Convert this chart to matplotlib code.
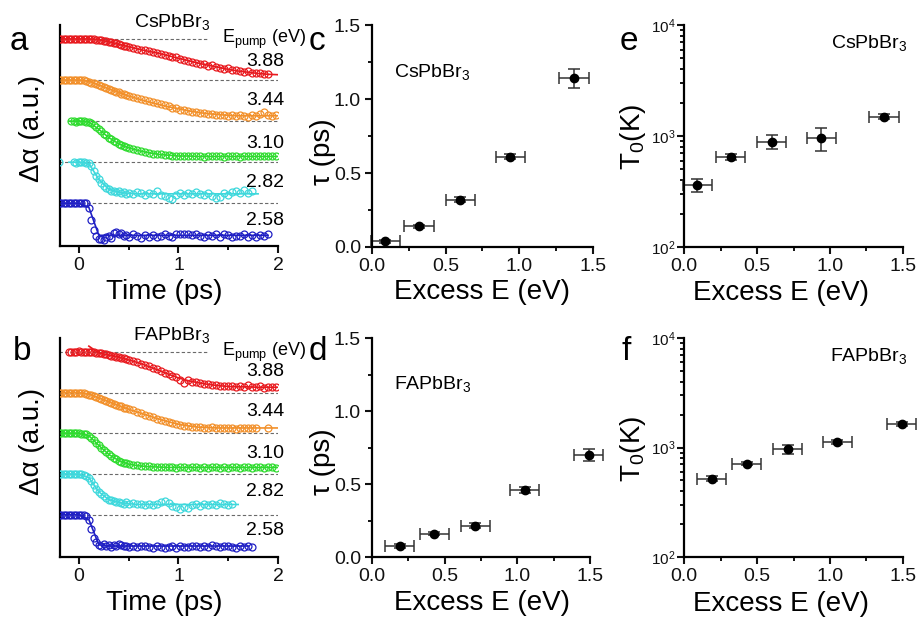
import numpy as np
import matplotlib
matplotlib.use('Agg')
import matplotlib.pyplot as plt
from matplotlib.ticker import MultipleLocator, LogLocator, NullFormatter, FormatStrFormatter, NullLocator

plt.rcParams['font.family'] = ['Liberation Sans', 'DejaVu Sans']
plt.rcParams['mathtext.fontset'] = 'custom'
plt.rcParams['mathtext.rm'] = 'Liberation Sans'
plt.rcParams['mathtext.it'] = 'Liberation Sans:italic'
plt.rcParams['mathtext.default'] = 'regular'

# ---------------- data ----------------
# common sampling times (ps) of the transient traces
TIME = [-0.200, -0.175, -0.150, -0.125, -0.100, -0.075, -0.050, -0.025, 0.000, 0.025,
        0.050, 0.075, 0.100, 0.125, 0.150, 0.175, 0.200, 0.225, 0.250, 0.275,
        0.300, 0.325, 0.350, 0.375, 0.400, 0.425, 0.450, 0.475, 0.500,
        0.54, 0.58, 0.62, 0.66, 0.70, 0.74, 0.78, 0.82, 0.86, 0.90, 0.94, 0.98,
        1.02, 1.06, 1.10, 1.14, 1.18, 1.22, 1.26, 1.30, 1.34, 1.38, 1.42, 1.46,
        1.50, 1.54, 1.58, 1.62, 1.66, 1.70, 1.74, 1.78, 1.82, 1.86, 1.90, 1.94, 1.98]
FIT_TIME = [-0.2, -0.1, 0.0, 0.1, 0.2, 0.3, 0.4, 0.5, 0.6, 0.7, 0.8, 0.9, 1.0,
            1.1, 1.2, 1.3, 1.4, 1.5, 1.6, 1.7, 1.8, 1.9, 2.0]

E_PUMP = ['3.88', '3.44', '3.10', '2.82', '2.58']

# CsPbBr3 traces: decay in % of trace spacing
CS_388 = [0, 0, 1, 0, 0, 1, 0, 0, 1, 0, 0, 1, 0, 1, 1, 2,
          2, 3, 4, 5, 7, 8, 10, 11, 12, 14, 16, 17, 19,
          22, 24, 26, 28, 30, 32, 34, 36, 38, 41, 43, 45, 48, 50, 54, 55, 58, 60, 62, 65,
          64, 69, 70, 72, 71, 76, 75, 78, 80, 77, 82, 84, 83, 86, 85]
CS_344 = [0, 0, 1, 0, 0, 0, 1, 0, 0, 1,
          1, 2, 4, 6, 8, 10, 12, 15, 17, 19, 21, 24, 26, 28, 30, 33, 35, 37, 38,
          41, 44, 47, 49, 52, 54, 57, 59, 61, 64, 67, 69, 72, 73, 75, 78, 78, 80, 81, 83,
          82, 84, 86, 85, 87, 86, 88, 86, 87, 89, 86, 88, 82, 79, 84, 87, 86]
CS_310 = [0, 0, 1, 0, 0, 0, 1, 2,
          5, 10, 15, 20, 25, 31, 35, 40, 44, 48, 52, 55, 58, 61, 63, 65,
          68, 71, 73, 75, 77, 79, 80, 81, 82, 83, 84, 85,
          85, 86, 84, 86, 85, 86, 87, 85, 86, 86, 85, 87, 86, 85, 86, 87, 85, 86, 84, 86,
          85, 86, 85, 86, 85]
CS_282 = [0, None, None, None, None, None,
          0, 1, 0, -1, 0, 1, 3,
          10, 22, 33, 42, 50, 57, 62, 66, 69, 71, 73, 70, 75, 72, 77, 74,
          78, 72, 76, 80, 74, 77, 71, 79, 82, 86, 89, 81, 76, 79, 74, 78, 72, 77, 80, 75,
          82, 88, 84, 76, 79, 73, 70, 76, 68, 74, 71]
CS_258 = [0, 0, 0, 0, 0, 0, 0, 0, 0, 0, 0, 0,
          12, 40, 65, 80, 88, 86, 90, 82, 79, 84, 72, 70, 76, 73, 80, 77, 82,
          76, 79, 84, 78, 81, 77, 83, 80, 76, 79, 82, 75, 74, 76, 75, 77, 74, 80, 82, 77,
          79, 76, 81, 74, 78, 83, 79, 80, 76, 82, 78, 81, 77, 79, 76]
CS_START = [0, 0, 5, 0, 0]
CS_FIT_388 = [0, 0, 0, 0, 2, 7, 13, 19, 25, 30, 35, 41, 47, 53, 59, 64, 69, 74, 78, 81, 84, 86, 87]
CS_FIT_344 = [0, 0, 0, 3, 12, 21, 30, 39, 46, 53, 59, 65, 70, 75, 79, 82, 84, 86, 87, 87, 87, 87, 87]
CS_FIT_310 = [0, 0, 2, 20, 40, 55, 65, 72, 77, 81, 83, 85, 85, 86, 86, 86, 86, 86, 86, 86, 86, 86]
CS_FIT_282 = [0, 0, 3, 42, 66, 73, 76, 77, 77, 77, 77, 77, 77, 77, 77, 77, 77, 77, 77, 77]
CS_FIT_258 = [0, 0, 0, 10, 78, 78, 78, 78, 78, 78, 78, 78, 78, 78, 78, 78, 78, 78, 78, 78, 78, 78]
CS_FIT_START = [0, 0, 1, 1, 0]

# FAPbBr3 traces
FA_388 = [0, 1, 0, 0, -1, 0, 1, 0, 0,
          1, 1, 2, 3, 4, 6, 6, 8, 9, 10, 12, 13, 15, 16, 18, 20,
          22, 25, 29, 33, 36, 40, 43, 47, 51, 55, 59, 62, 68, 77, 70, 73, 75, 77, 79, 80,
          82, 81, 83, 84, 85, 84, 86, 85, 87, 82, 86, 87, 85, 88, 86, 87, 86]
FA_344 = [0, 0, 0, 1, 0, 0, 0, 1, 0, 1,
          2, 3, 5, 7, 9, 11, 13, 15, 18, 20, 22, 25, 27, 30, 32, 34, 37, 39, 41,
          44, 47, 51, 54, 57, 61, 64, 67, 70, 73, 76, 78, 80, 81, 83, 84, 85, 84, 86, 88,
          85, 87, 86, 88, 86, 87, 89, 86, 88, 86, 88, 86, None, None, 87]
FA_310 = [0, 0, 0, 0, 0, 0, 0, 0, 0, 1, 1,
          3, 6, 11, 17, 23, 30, 36, 42, 47, 52, 56, 60, 64, 67, 70, 72, 74, 76,
          77, 79, 80, 81, 80, 82, 83, 82, 84, 83, 84, 85, 83, 84, 85, 84, 83, 85, 84, 85,
          84, 83, 85, 84, 85, 84, 83, 85, 84, 83, 85, 82, 84, 85, 83, 84, 85]
FA_282 = [0, 0, 0, 0, 0, 0, 0, 0, 0, 1, 2,
          4, 9, 18, 28, 36, 44, 50, 55, 60, 63, 65, 67, 70, 68, 71, 73, 70, 74,
          72, 75, 73, 77, 74, 76, 73, 68, 66, 72, 78, 82, 86, 80, 84, 76, 74, 78, 75, 77,
          73, 76, 72, 75, 77, 74]
FA_258 = [0, 0, 0, 0, 0, 0, 0, 0, 0, 0, 1, 3,
          12, 35, 58, 68, 74, 76, 72, 78, 75, 79, 74, 77, 71, 75, 78, 76, 79,
          77, 80, 78, 76, 79, 81, 77, 80, 83, 79, 78, 81, 77, 80, 79, 76, 78, 80, 77, 79,
          74, 77, 80, 78, 76, 79, 81, 78, 80, 77, 79]
FA_START = [4, 0, 0, 0, 0]
FA_FIT_388 = [-14, 3, 8, 13, 20, 27, 36, 45, 55, 64, 71, 76, 80, 83, 85, 86, 86, 87, 87, 87]
FA_FIT_344 = [0, 0, 0, 4, 13, 22, 32, 41, 49, 57, 65, 72, 78, 82, 85, 86, 87, 87, 87, 87, 87, 87, 87]
FA_FIT_310 = [0, 0, 0, 6, 30, 52, 67, 76, 80, 82, 83, 84, 84, 84, 84, 84, 84, 84, 84, 84, 84, 84, 84]
FA_FIT_282 = [0, 0, 1, 9, 44, 63, 70, 73, 75, 75, 75, 75, 75, 75, 75, 75, 75, 75, 75]
FA_FIT_258 = [0, 0, 0, 12, 74, 77, 77, 77, 77, 77, 77, 77, 77, 77, 77, 77, 77, 77, 77, 77]
FA_FIT_START = [3, 0, 0, 0, 0]

# excess energy vs cooling time / temperature
CS_EXCESS = [0.09, 0.32, 0.60, 0.94, 1.37]
CS_TAU = [0.04, 0.14, 0.32, 0.61, 1.14]
CS_TAU_ERR = [0.01, 0.012, 0.015, 0.018, 0.065]
CS_T0 = [360, 650, 885, 968, 1490]
CS_T0_LOW = [314, 614, 771, 735, 1409]
CS_T0_HIGH = [414, 686, 1018, 1186, 1574]

FA_EXCESS = [0.19, 0.43, 0.71, 1.05, 1.49]
FA_TAU = [0.075, 0.16, 0.215, 0.46, 0.70]
FA_TAU_ERR = [0.012, 0.012, 0.015, 0.02, 0.04]
FA_T0 = [519, 711, 968, 1122, 1640]
FA_T0_LOW = [495, 690, 880, 1080, 1580]
FA_T0_HIGH = [545, 735, 1059, 1165, 1700]

EXCESS_ERR = [0.1, 0.1, 0.1, 0.1, 0.1]

COLORS = ['#E8191E', '#F2902A', '#2EDB2E', '#3ED8DC', '#1F1FC4']

# ---------------- figure ----------------
W, H = 920, 622
fig = plt.figure(figsize=(W / 100, H / 100), dpi=100)


def add_ax(l, t, r, b):
    return fig.add_axes([l / W, 1 - b / H, (r - l) / W, (b - t) / H])


def ftext(x, y, s, **kw):
    fig.text(x / W, 1 - y / H, s, **kw)


def style(ax):
    for sp in ['top', 'right']:
        ax.spines[sp].set_visible(False)
    for sp in ['left', 'bottom']:
        ax.spines[sp].set_linewidth(1.6)
    ax.tick_params(which='major', direction='out', length=5, width=1.5,
                   labelsize=14, pad=3, colors='#111111')
    ax.tick_params(which='minor', direction='out', length=3, width=1.3)


def unclip(container):
    for art in container.get_children():
        art.set_clip_on(False)


def trace_panel(ax, traces, starts, fits, fit_starts, dash_start, dash_end, label_y):
    style(ax)
    for i, (vals, s, fit, fs) in enumerate(zip(traces, starts, fits, fit_starts)):
        off = 4 - i
        t = np.array(TIME[s:s + len(vals)])
        v = np.array(vals, dtype=float)
        ax.hlines(off, dash_start[i], dash_end[i], colors='#6a6a6a',
                  linestyles=(0, (3, 2)), lw=0.8, zorder=1)
        ft = np.array(FIT_TIME[fs:fs + len(fit)])
        ax.plot(ft, off - np.array(fit, dtype=float) / 100, '-', color=COLORS[i], lw=1.2, zorder=2)
        ax.plot(t, off - v / 100, 'o', mfc='none', mec=COLORS[i], ms=5, mew=0.9, zorder=3)
        ax.text(2.06, label_y[i], E_PUMP[i], ha='right', va='center', fontsize=14,
                clip_on=False)
    ax.set_xlim(-0.19, 2.0)
    ax.set_ylim(-1.04, 4.34)
    ax.yaxis.set_major_locator(NullLocator())
    ax.xaxis.set_major_locator(MultipleLocator(1))
    ax.xaxis.set_minor_locator(MultipleLocator(0.5))
    ax.text(1.44, 3.99, r'E$_{\mathrm{pump}}$ (eV)', ha='left', va='center', fontsize=13,
            clip_on=False)


def tau_panel(ax, x, y, yerr, name):
    style(ax)
    cont = ax.errorbar(x, y, xerr=EXCESS_ERR, yerr=yerr, fmt='o', color='black', ms=6,
                       ecolor='#333333', elinewidth=1.1, capsize=4, capthick=1.1)
    unclip(cont)
    ax.set_xlim(0, 1.5)
    ax.set_ylim(0, 1.5)
    ax.xaxis.set_major_locator(MultipleLocator(0.5))
    ax.xaxis.set_minor_locator(MultipleLocator(0.25))
    ax.yaxis.set_major_locator(MultipleLocator(0.5))
    ax.yaxis.set_minor_locator(MultipleLocator(0.25))
    ax.xaxis.set_major_formatter(FormatStrFormatter('%.1f'))
    ax.yaxis.set_major_formatter(FormatStrFormatter('%.1f'))
    ax.text(0.10, 0.79, name, transform=ax.transAxes, fontsize=14, ha='left', va='center')


def temp_panel(ax, x, y, low, high, name):
    style(ax)
    y = np.array(y, dtype=float)
    yerr = [y - np.array(low), np.array(high) - y]
    cont = ax.errorbar(x, y, xerr=EXCESS_ERR, yerr=yerr, fmt='o', color='black', ms=6,
                       ecolor='#333333', elinewidth=1.1, capsize=4, capthick=1.1)
    unclip(cont)
    ax.set_yscale('log')
    ax.set_xlim(0, 1.5)
    ax.set_ylim(100, 10000)
    ax.xaxis.set_major_locator(MultipleLocator(0.5))
    ax.xaxis.set_minor_locator(MultipleLocator(0.25))
    ax.xaxis.set_major_formatter(FormatStrFormatter('%.1f'))
    ax.yaxis.set_major_locator(LogLocator(base=10, numticks=5))
    ax.yaxis.set_minor_locator(LogLocator(base=10, subs=np.arange(2, 10), numticks=20))
    ax.yaxis.set_minor_formatter(NullFormatter())
    ax.tick_params(axis='y', which='major', labelsize=11, pad=1)
    ax.text(1.02, 0.92, name, transform=ax.transAxes, fontsize=14, ha='right', va='center')


ax_a = add_ax(60, 25, 278, 246)
ax_b = add_ax(60, 338, 278, 557)
ax_c = add_ax(372, 25, 593, 247)
ax_d = add_ax(372, 338, 590, 557)
ax_e = add_ax(684, 25, 903, 247)
ax_f = add_ax(684, 338, 903, 557)

trace_panel(ax_a, [CS_388, CS_344, CS_310, CS_282, CS_258], CS_START,
            [CS_FIT_388, CS_FIT_344, CS_FIT_310, CS_FIT_282, CS_FIT_258], CS_FIT_START,
            [-0.2, -0.2, -0.11, -0.2, -0.2], [1.31, 2.0, 2.0, 2.0, 2.0],
            [3.44, 2.51, 1.46, 0.51, -0.41])
trace_panel(ax_b, [FA_388, FA_344, FA_310, FA_282, FA_258], FA_START,
            [FA_FIT_388, FA_FIT_344, FA_FIT_310, FA_FIT_282, FA_FIT_258], FA_FIT_START,
            [-0.2, -0.2, -0.2, -0.2, -0.2], [1.31, 2.0, 2.0, 2.0, 2.0],
            [3.51, 2.54, 1.51, 0.56, -0.39])

tau_panel(ax_c, CS_EXCESS, CS_TAU, CS_TAU_ERR, 'CsPbBr$_3$')
tau_panel(ax_d, FA_EXCESS, FA_TAU, FA_TAU_ERR, 'FAPbBr$_3$')
temp_panel(ax_e, CS_EXCESS, CS_T0, CS_T0_LOW, CS_T0_HIGH, 'CsPbBr$_3$')
temp_panel(ax_f, FA_EXCESS, FA_T0, FA_T0_LOW, FA_T0_HIGH, 'FAPbBr$_3$')

# titles of trace panels
ftext(172, 22, 'CsPbBr$_3$', ha='center', va='center', fontsize=14)
ftext(172, 335, 'FAPbBr$_3$', ha='center', va='center', fontsize=14)

# axis labels
LBL = 20
ftext(164, 292, 'Time (ps)', ha='center', va='center', fontsize=LBL)
ftext(164, 603, 'Time (ps)', ha='center', va='center', fontsize=LBL)
ftext(482, 292, 'Excess E (eV)', ha='center', va='center', fontsize=LBL)
ftext(482, 603, 'Excess E (eV)', ha='center', va='center', fontsize=LBL)
ftext(781, 293, 'Excess E (eV)', ha='center', va='center', fontsize=LBL)
ftext(781, 604, 'Excess E (eV)', ha='center', va='center', fontsize=LBL)
ftext(32, 128, 'Δα (a.u.)', ha='center', va='center', rotation=90, fontsize=LBL)
ftext(32, 441, 'Δα (a.u.)', ha='center', va='center', rotation=90, fontsize=LBL)
ftext(323, 152, 'τ (ps)', ha='center', va='center', rotation=90, fontsize=LBL)
ftext(323, 462, 'τ (ps)', ha='center', va='center', rotation=90, fontsize=LBL)
ftext(633, 137, 'T$_0$(K)', ha='center', va='center', rotation=90, fontsize=LBL)
ftext(633, 449, 'T$_0$(K)', ha='center', va='center', rotation=90, fontsize=LBL)

# panel letters
for s, x, y in [('a', 10, 50), ('b', 13, 360), ('c', 309, 50),
                ('d', 309, 360), ('e', 620, 50), ('f', 622, 360)]:
    ftext(x, y, s, ha='left', va='baseline', fontsize=24)

fig.savefig('out.png', dpi=100)
